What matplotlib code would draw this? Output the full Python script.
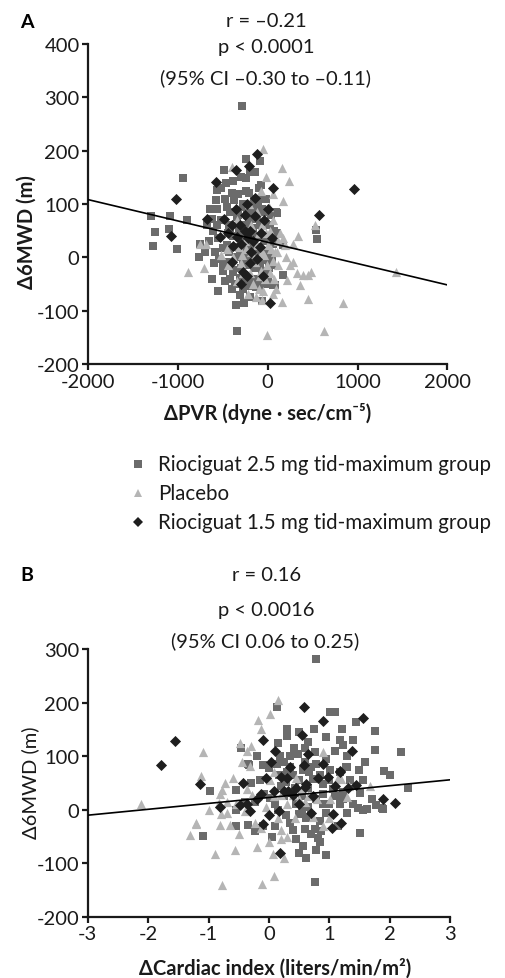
import matplotlib

matplotlib.use("Agg")
import matplotlib.pyplot as plt
import numpy as np

# ---- panel A: change in PVR vs change in 6MWD ----
PVR_RIO25 = [
    (-280, 283), (-947, 148), (-1303, 77), (-1258, 47), (-1280, 22), (-1091, 77),
    (-1100, 54), (-1013, 15), (-902, 71), (-768, 0), (-757, 26), (-646, 90),
    (-580, 107), (-568, 126), (-490, 163), (-390, 143), (-557, -62), (-478, -45),
    (-312, -71), (-345, -137), (-67, -81), (-245, 184), (-89, 180), (-245, 148),
    (-145, 161), (-78, 135), (-379, 107), (-278, 101), (-234, 79), (-624, 73),
    (-612, 49), (-557, 36), (-501, 17), (-457, -8), (-390, -24), (-501, -26),
    (56, -52), (89, 86), (100, 84), (167, -32), (78, -51), (535, 51), (546, 34),
    (-680, 60), (-590, 11), (-545, -2), (-500, -15), (-423, 54), (-390, 20),
    (-390, -27), (-278, -8), (-234, -38), (-200, -54), (-167, 98), (-123, 73),
    (-89, 110), (-56, 41), (-11, 11), (22, 60), (0, -34), (45, -15), (0, -50),
    (-312, -38), (-278, 95), (-345, 76), (-457, 24), (-520, 70), (100, 45),
    (167, 24), (-330, 118), (-210, 120), (-160, 55), (-300, 40), (-250, 20),
    (-200, 0), (-150, -20), (-100, -40), (-60, 90), (-30, 30), (-120, 5),
    (-180, 40), (-350, 0), (-420, 85), (-270, 60), (-220, -15), (-130, -55),
    (-80, -10), (30, 5), (60, 25), (-440, 45), (-360, -50), (-270, -60),
    (-170, 20), (-40, 65), (-100, 130), (-200, 160), (-310, 10), (-150, 80),
    (-60, -25), (10, 40), (-400, -60), (-600, -10), (-480, 110), (-230, 55),
    (-520, 130), (-450, 95), (-430, 60), (-380, 40), (-330, 80), (-300, -20),
    (-260, -40), (-240, 125), (-190, 95), (-170, -40), (-140, 40), (-110, 95),
    (-90, 60), (-70, -50), (-40, 10), (-20, 110), (0, 60), (40, 80), (70, 50),
    (-560, 60), (-650, 30), (-700, 10), (-620, -40), (-480, -10), (-430, 10),
    (-360, 20), (-320, 55), (-280, 30), (-240, 0), (-210, 70), (-180, -10),
    (-150, 110), (-110, 20), (-80, -55), (-50, 85), (-10, -5), (20, -20),
    (50, 0), (-560, 90), (-460, 140), (-400, 120), (-300, 150), (-350, -90),
    (-420, -40), (-260, -85), (-200, -75),
]
PVR_PLACEBO = [
    (-56, 204), (-400, 170), (156, 167), (234, 144), (167, 105), (56, 118),
    (-78, 124), (-890, -27), (-713, -19), (-757, 26), (-690, 26), (334, 41),
    (279, 26), (190, 24), (279, -8), (323, -30), (390, -32), (446, -32),
    (479, -27), (356, -52), (212, -43), (446, -77), (156, -83), (835, -86),
    (624, -137), (-11, -146), (1425, -27), (523, 60), (167, 36), (100, 11),
    (56, -7), (-11, -15), (-78, -25), (-145, -8), (-190, 11), (-60, 11),
    (-120, 24), (0, 24), (-345, -45), (-167, -50), (-56, -62), (56, -68),
    (-223, -68), (-457, 15), (-390, 0), (-345, 70), (140, 45), (56, 70),
    (-67, 60), (-250, 30), (-100, 45), (30, -30), (-30, -40), (120, -15),
    (-200, -30), (-280, 5), (80, 10), (-130, -75), (20, 95), (-20, 150),
    (-300, -10), (-240, 15), (-160, -5), (-90, -35), (-40, 5), (30, 50),
    (70, -40), (110, 30), (-180, 60), (-120, 85), (-60, -80), (-320, 20),
    (-270, -30), (200, 0), (250, -15), (-20, 45), (40, 15), (90, -60),
    (-210, 100), (-440, -15), (-520, 5), (-100, -60),
]
PVR_RIO15 = [
    (-123, 193), (-212, 172), (-356, 163), (-579, 142), (-1025, 109), (-1080, 41),
    (-679, 73), (-490, 73), (-401, 60), (-535, 39), (-145, 111), (56, 131),
    (0, 90), (-256, 79), (-145, 77), (-312, 60), (-256, 49), (-345, 39),
    (-223, 36), (-200, 50), (-390, 21), (-401, -9), (-278, -27), (-234, -34),
    (-56, -34), (22, -86), (45, 36), (-78, 45), (958, 128), (568, 79),
    (-123, -2), (-300, 25), (-180, 10), (-350, 90), (-230, 100), (-160, 30),
    (-90, 20), (-40, 70), (-300, -50), (-200, -10), (-440, 45),
]
PVR_FIT = (28.5, -0.040)  # intercept, slope

# ---- panel B: change in cardiac index vs change in 6MWD ----
CI_RIO25 = [
    (0.78, 282), (1.01, 183), (1.09, 183), (0.13, 86), (0.30, 138), (0.50, 146),
    (0.65, 127), (0.76, 107), (1.21, 151), (1.44, 163), (1.76, 148), (1.76, 112),
    (2.19, 108), (1.18, 131), (1.23, 121), (1.10, 110), (1.28, 79), (1.49, 75),
    (1.56, 56), (1.91, 73), (2.00, 65), (2.31, 41), (1.51, 32), (1.77, 9),
    (1.89, 2), (1.48, 4), (1.56, 0), (1.23, 20), (0.18, 100), (0.35, 100),
    (0.48, 104), (-0.46, 116), (-0.33, 84), (0.13, 192), (-0.35, 86), (-0.10, 84),
    (-0.55, 37), (-0.98, 35), (-1.09, -49), (-0.55, -30), (-0.35, -28), (-0.23, -40),
    (-0.10, -30), (0.10, -30), (0.15, 0), (0.28, -10), (0.40, -37), (0.56, -67),
    (0.78, -75), (0.81, -52), (0.70, -45), (0.76, -35), (0.86, -40), (0.76, -135),
    (1.51, -43), (1.62, 2), (1.88, 4), (1.29, 79), (1.18, 70), (1.01, 75),
    (0.78, 85), (0.56, 75), (0.40, 65), (0.73, 58), (0.90, 48), (1.07, 38),
    (1.23, 33), (1.17, 10), (1.29, -5), (1.00, 10), (0.78, 20), (0.55, 25),
    (0.44, 40), (0.28, 52), (0.17, 65), (0.00, 78), (-0.08, 30), (-0.23, 15),
    (-0.40, 15), (-0.55, 0), (0.02, 22), (0.50, -8), (0.61, -15), (0.60, 90),
    (0.66, 70), (0.95, 95), (0.35, 80), (0.90, 30), (0.65, 5), (1.35, 55),
    (0.85, -20), (0.45, 10), (0.25, 25), (0.65, 40), (-0.15, 55), (0.95, -5),
    (0.30, 70), (0.50, 55), (0.70, 80), (0.85, 65), (1.00, 55), (0.55, 0),
    (0.70, -10), (0.35, -25), (0.45, -55), (0.60, -35), (0.90, 10), (1.10, 25),
    (0.20, 45), (0.10, 10), (0.42, 115), (0.60, 115), (0.95, 135), (0.75, 150),
    (1.30, 100), (1.40, 130), (0.15, 125), (0.25, 90), (0.85, -60), (0.95, -85),
    (0.62, -90), (0.50, -80), (1.15, -30), (1.40, 10), (1.60, 90), (1.70, 20),
    (-0.20, 100), (-0.30, 50), (0.05, -50), (0.30, 150),
]
CI_PLACEBO = [
    (-2.12, 10), (-1.09, 107), (-1.12, 63), (-0.70, 15), (-0.81, 30), (-1.21, -27),
    (-1.31, -47), (-0.81, -28), (-0.65, -28), (-0.90, -82), (-0.56, -75), (-0.18, 168),
    (-0.13, 150), (0.02, 178), (0.15, 205), (-0.48, 125), (-0.30, 120), (-0.36, 110),
    (-0.32, 82), (0.89, 108), (0.07, -82), (0.08, -124), (-0.12, -138), (-0.78, -140),
    (-0.73, 50), (-0.78, 37), (-0.82, 12), (-0.80, -7), (-0.70, -5), (-0.40, -3),
    (-0.23, -25), (-0.13, -33), (0.20, -38), (0.30, -50), (0.20, -55), (0.44, -16),
    (0.40, 28), (0.20, 28), (0.08, 25), (-0.28, 28), (-0.36, 38), (0.02, 55),
    (0.55, 40), (0.73, -13), (1.02, 20), (1.30, 24), (1.33, 45), (1.20, 58),
    (0.08, 70), (1.67, 45), (-1.20, -25), (-0.55, 10), (0.60, 15), (-0.05, 5),
    (0.30, 10), (0.50, 20), (0.65, 25), (0.15, -15), (0.00, -60), (-0.20, -70),
    (0.45, 60), (0.80, 20), (1.00, -15), (1.15, 60), (-0.60, 60), (-0.50, -45),
    (-1.00, 0), (0.25, -90), (-0.45, 90), (0.90, -30),
]
CI_RIO15 = [
    (-1.56, 129), (-1.79, 84), (-1.14, 49), (-0.10, 131), (0.10, 110), (0.03, 90),
    (0.58, 192), (0.90, 166), (0.55, 140), (1.38, 110), (1.18, 73), (0.81, 60),
    (0.58, 84), (0.35, 79), (0.20, 62), (-0.05, 60), (-0.43, 50), (0.32, 36),
    (0.45, 40), (0.60, 42), (-0.81, 6), (-0.48, 9), (-0.37, 11), (-0.32, -2),
    (0.16, -3), (-0.10, -26), (0.18, -80), (1.06, -7), (1.05, -34), (1.19, -24),
    (1.44, 47), (1.56, 172), (1.89, 21), (2.09, 13), (0.98, 62), (1.17, 71),
    (1.31, 40), (-0.13, 30), (0.08, 35), (0.25, 35), (0.40, 28), (0.62, 48),
    (0.73, 25), (0.50, 10), (0.70, -5), (0.30, 60), (0.65, 105), (0.90, 85),
    (1.10, 45), (0.00, -10), (-0.20, 20),
]
CI_FIT = (23.0, 11.0)

GROUPS = [
    "Riociguat 2.5 mg tid-maximum group",
    "Placebo",
    "Riociguat 1.5 mg tid-maximum group",
]
COLORS = ["#6b6b6b", "#b5b5b5", "#1e1e1e"]
MARKERS = ["s", "^", "D"]
SIZES = [38, 44, 32]

plt.rcParams.update({
    "font.family": ["Lato", "DejaVu Sans"],
    "axes.unicode_minus": False,
    "axes.linewidth": 1.6,
})

fig = plt.figure(figsize=(5.05, 9.79), dpi=100)


def draw_panel(ax, groups, fit, xlim, ylim, xticks, yticks):
    for pts, c, m, s in zip(groups, COLORS, MARKERS, SIZES):
        arr = np.asarray(pts, dtype=float)
        ax.scatter(arr[:, 0], arr[:, 1], s=s, marker=m, color=c, linewidths=0, zorder=2)
    xs = np.asarray(xlim, dtype=float)
    ax.plot(xs, fit[0] + fit[1] * xs, color="black", linewidth=1.2, zorder=3)
    ax.set_xlim(*xlim)
    ax.set_ylim(*ylim)
    ax.set_xticks(xticks)
    ax.set_yticks(yticks)
    for side in ("top", "right"):
        ax.spines[side].set_visible(False)
    ax.tick_params(length=4, width=1.6, labelsize=14.5, pad=2, colors="#1a1a1a")
    ax.spines["left"].set_color("#1a1a1a")
    ax.spines["bottom"].set_color("#1a1a1a")


ax_a = fig.add_axes([0.174, 0.627, 0.712, 0.327])
draw_panel(ax_a, [PVR_RIO25, PVR_PLACEBO, PVR_RIO15], PVR_FIT,
           (-2000, 2000), (-200, 400), [-2000, -1000, 0, 1000, 2000],
           [-200, -100, 0, 100, 200, 300, 400])

ax_b = fig.add_axes([0.174, 0.0623, 0.717, 0.2737])
draw_panel(ax_b, [CI_RIO25, CI_PLACEBO, CI_RIO15], CI_FIT,
           (-3, 3), (-200, 300), [-3, -2, -1, 0, 1, 2, 3],
           [-200, -100, 0, 100, 200, 300])

txt = dict(ha="center", va="center", fontsize=14.5, color="#1a1a1a")
fig.text(0.04, 0.977, "A", fontsize=14, fontweight="bold", ha="left", va="center")
fig.text(0.528, 0.978, "r = \u20130.21", **txt)
fig.text(0.528, 0.951, "p < 0.0001", **txt)
fig.text(0.525, 0.920, "(95% CI \u20130.30 to \u20130.11)", **txt)
fig.text(0.053, 0.763, "\u03946MWD (m)", rotation=90, fontweight="bold", **txt)
fig.text(0.53, 0.578, "\u0394PVR (dyne \u00b7 sec/cm\u207b\u2075)", fontweight="bold", **txt)

legend_marker_sizes = [5.5, 6.0, 5.0]
for i, (lab, c, m, ms) in enumerate(zip(GROUPS, COLORS, MARKERS, legend_marker_sizes)):
    y = 0.525 - i * 0.0296
    fig.lines.append(plt.Line2D([0.273], [y], transform=fig.transFigure, marker=m,
                                markersize=ms, color=c, linestyle="none",
                                markeredgewidth=0))
    fig.text(0.313, y, lab, ha="left", va="center", fontsize=14.8, color="#1a1a1a")

fig.text(0.04, 0.412, "B", fontsize=14, fontweight="bold", ha="left", va="center")
fig.text(0.528, 0.412, "r = 0.16", **txt)
fig.text(0.528, 0.376, "p < 0.0016", **txt)
fig.text(0.525, 0.345, "(95% CI 0.06 to 0.25)", **txt)
fig.text(0.059, 0.20, "\u03946MWD (m)", rotation=90, **txt)
fig.text(0.545, 0.0112, "\u0394Cardiac index (liters/min/m\u00b2)", fontweight="bold", **txt)

fig.savefig("out.png", dpi=100)
